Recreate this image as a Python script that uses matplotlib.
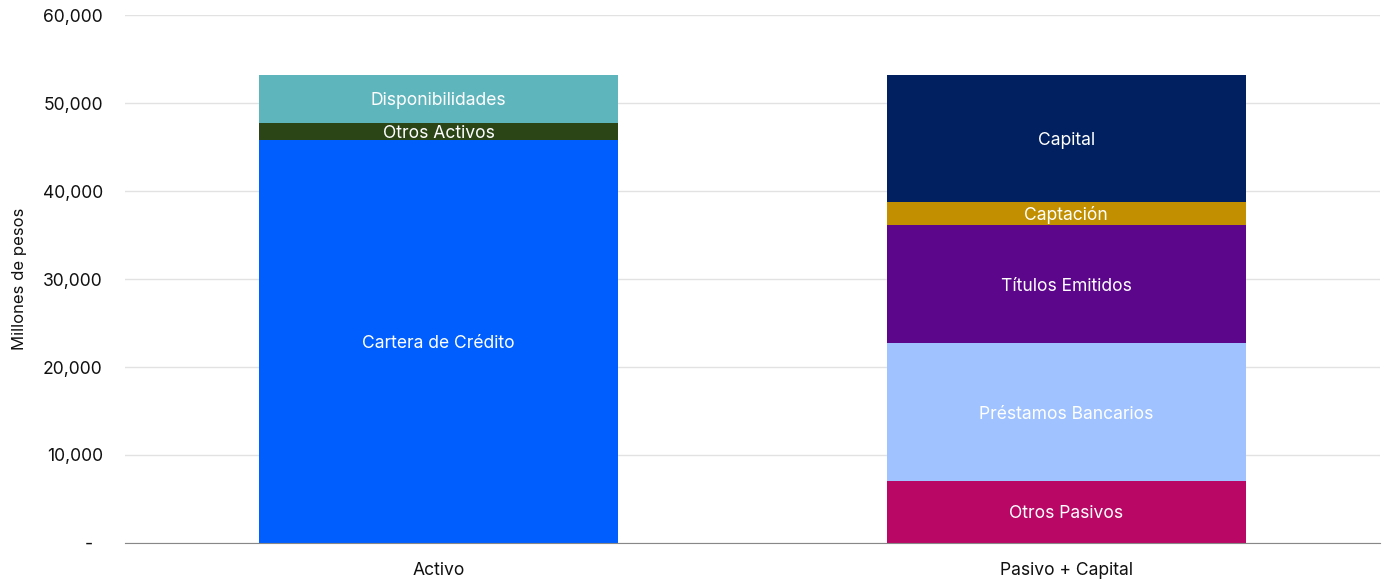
import numpy as np
import matplotlib
matplotlib.use("Agg")
import matplotlib.pyplot as plt
from matplotlib.ticker import FuncFormatter

plt.rcParams['font.family'] = ['Inter', 'DejaVu Sans']

# balance sheet, millones de pesos
categorias = ['Activo', 'Pasivo + Capital']

activo_nombres = ['Cartera de Crédito', 'Otros Activos', 'Disponibilidades']
activo_valores = [45850, 1900, 5450]
activo_colores = ['#005EFF', '#2B4517', '#5FB5BC']

pasivo_nombres = ['Otros Pasivos', 'Préstamos Bancarios', 'Títulos Emitidos',
                  'Captación', 'Capital']
pasivo_valores = [7050, 15650, 13450, 2600, 14450]
pasivo_colores = ['#B90766', '#A0C3FF', '#5C068C', '#C18F00', '#00205F']

fig = plt.figure(figsize=(13.84, 5.79), dpi=100)
ax = fig.add_axes([0.0903, 0.0622, 0.9067, 0.9118])

ancho = 0.572

def apilar(x, nombres, valores, colores):
    base = 0
    for nombre, v, c in zip(nombres, valores, colores):
        ax.bar(x, v, bottom=base, width=ancho, color=c, zorder=2)
        ax.text(x, base + v / 2, nombre, ha='center', va='center_baseline',
                color='white', fontsize=12.6, zorder=3)
        base += v

apilar(0, activo_nombres, activo_valores, activo_colores)
apilar(1, pasivo_nombres, pasivo_valores, pasivo_colores)

ax.set_xlim(-0.5, 1.5)
ax.set_ylim(0, 60000)
ax.set_xticks([0, 1])
ax.set_xticklabels(categorias)
ax.set_yticks(np.arange(0, 60001, 10000))
ax.yaxis.set_major_formatter(FuncFormatter(
    lambda v, p: '-  ' if v == 0 else f'{v:,.0f}'))
ax.tick_params(axis='both', length=0, labelsize=12.6, colors='#111111')
ax.tick_params(axis='y', pad=16)
ax.tick_params(axis='x', pad=14)

ax.grid(axis='y', color='#e2e2e2', linewidth=1, zorder=0)
for s in ['top', 'right', 'left']:
    ax.spines[s].set_visible(False)
ax.spines['bottom'].set_color('#888888')
ax.spines['bottom'].set_zorder(4)

ax.set_ylabel('Millones de pesos', fontsize=12, color='#111111')
ax.yaxis.set_label_coords(-0.078, 0.5)

fig.savefig('out.png', dpi=100)
